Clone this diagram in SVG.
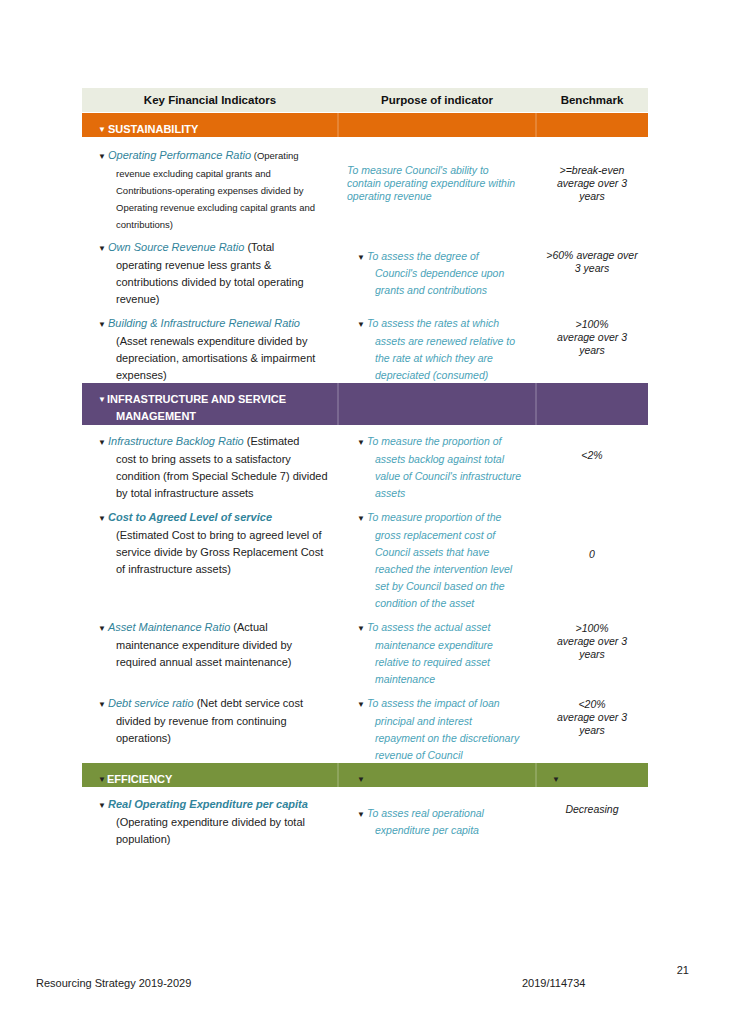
<svg xmlns="http://www.w3.org/2000/svg" width="730" height="1033" viewBox="0 0 730 1033">
<style>
text{font-family:"Liberation Sans",Arial,sans-serif;font-size:11px;fill:#222}
.h{font-weight:bold;font-size:11.5px;fill:#111}
.s{font-weight:bold;fill:#fff;font-size:11px}
.k{fill:#31849b;font-style:italic}
.p{fill:#4aa3b8;font-style:italic;font-size:10.5px}
.b{font-style:italic;font-size:10.5px;text-anchor:middle}
.sm{font-size:9.5px}
.t{fill:#222;font-size:8px}
.tw{fill:#fff;font-size:8px}
.d{stroke:rgba(255,255,255,0.35);stroke-width:1}
</style>
<rect width="730" height="1033" fill="#fff"/>
<g id="header">
<rect x="82" y="88" width="566" height="24" fill="#eaede1"/>
<text class="h" x="210" y="104" text-anchor="middle">Key Financial Indicators</text>
<text class="h" x="437" y="104" text-anchor="middle">Purpose of indicator</text>
<text class="h" x="592" y="104" text-anchor="middle">Benchmark</text>
</g>
<g id="sustainability">
<rect x="82" y="113" width="566" height="24" fill="#e36c0a"/>
<line class="d" x1="338" y1="113" x2="338" y2="137"/><line class="d" x1="536" y1="113" x2="536" y2="137"/>
<text class="tw" x="98" y="132">▼</text><text class="s" x="108" y="133">SUSTAINABILITY</text>
</g>
<g id="row-opr">
<text class="t" x="98" y="159">▼</text>
<text x="108" y="159"><tspan class="k">Operating Performance Ratio</tspan><tspan class="sm"> (Operating</tspan></text>
<text class="sm" x="116" y="177">revenue excluding capital grants and</text>
<text class="sm" x="116" y="194">Contributions-operating expenses divided by</text>
<text class="sm" x="116" y="211">Operating revenue excluding capital grants and</text>
<text class="sm" x="116" y="228">contributions)</text>
<text class="p" x="347" y="174">To measure Council's ability to</text>
<text class="p" x="347" y="187">contain operating expenditure within</text>
<text class="p" x="347" y="200">operating revenue</text>
<text class="b" x="592" y="174">&gt;=break-even</text>
<text class="b" x="592" y="187">average over 3</text>
<text class="b" x="592" y="200">years</text>
</g>
<g id="row-osr">
<text class="t" x="98" y="251">▼</text>
<text x="108" y="251"><tspan class="k">Own Source Revenue Ratio</tspan> (Total</text>
<text x="116" y="269">operating revenue less grants &amp;</text>
<text x="116" y="286">contributions divided by total operating</text>
<text x="116" y="303">revenue)</text>
<text class="t" x="357" y="260">▼</text>
<text class="p" x="367" y="260">To assess the degree of</text>
<text class="p" x="375" y="277">Council's dependence upon</text>
<text class="p" x="375" y="294">grants and contributions</text>
<text class="b" x="592" y="259">&gt;60% average over</text>
<text class="b" x="592" y="272">3 years</text>
</g>
<g id="row-birr">
<text class="t" x="98" y="327">▼</text>
<text x="108" y="327"><tspan class="k">Building &amp; Infrastructure Renewal Ratio</tspan></text>
<text x="116" y="345">(Asset renewals expenditure divided by</text>
<text x="116" y="362">depreciation, amortisations &amp; impairment</text>
<text x="116" y="379">expenses)</text>
<text class="t" x="357" y="327">▼</text>
<text class="p" x="367" y="327">To assess the rates at which</text>
<text class="p" x="375" y="345">assets are renewed relative to</text>
<text class="p" x="375" y="362">the rate at which they are</text>
<text class="p" x="375" y="379">depreciated (consumed)</text>
<text class="b" x="592" y="328">&gt;100%</text>
<text class="b" x="592" y="341">average over 3</text>
<text class="b" x="592" y="354">years</text>
</g>
<g id="infrastructure">
<rect x="82" y="383" width="566" height="42" fill="#5f497a"/>
<line class="d" x1="338" y1="383" x2="338" y2="425"/><line class="d" x1="536" y1="383" x2="536" y2="425"/>
<text class="tw" x="98" y="402">▼</text><text class="s" x="107" y="403">INFRASTRUCTURE AND SERVICE</text>
<text class="s" x="116" y="420">MANAGEMENT</text>
</g>
<g id="row-ibr">
<text class="t" x="98" y="445">▼</text>
<text x="108" y="445"><tspan class="k">Infrastructure Backlog Ratio</tspan> (Estimated</text>
<text x="116" y="463">cost to bring assets to a satisfactory</text>
<text x="116" y="480">condition (from Special Schedule 7) divided</text>
<text x="116" y="497">by total infrastructure assets</text>
<text class="t" x="357" y="445">▼</text>
<text class="p" x="367" y="445">To measure the proportion of</text>
<text class="p" x="375" y="463">assets backlog against total</text>
<text class="p" x="375" y="480">value of Council's infrastructure</text>
<text class="p" x="375" y="497">assets</text>
<text class="b" x="592" y="459">&lt;2%</text>
</g>
<g id="row-cal">
<text class="t" x="98" y="521">▼</text>
<text x="108" y="521"><tspan class="k" font-weight="bold">Cost to Agreed Level of service</tspan></text>
<text x="116" y="539">(Estimated Cost to bring to agreed level of</text>
<text x="116" y="556">service divide by Gross Replacement Cost</text>
<text x="116" y="573">of infrastructure assets)</text>
<text class="t" x="357" y="521">▼</text>
<text class="p" x="367" y="521">To measure proportion of the</text>
<text class="p" x="375" y="539">gross replacement cost of</text>
<text class="p" x="375" y="556">Council assets that have</text>
<text class="p" x="375" y="573">reached the intervention level</text>
<text class="p" x="375" y="590">set by Council based on the</text>
<text class="p" x="375" y="607">condition of the asset</text>
<text class="b" x="592" y="558">0</text>
</g>
<g id="row-amr">
<text class="t" x="98" y="631">▼</text>
<text x="108" y="631"><tspan class="k">Asset Maintenance Ratio</tspan> (Actual</text>
<text x="116" y="649">maintenance expenditure divided by</text>
<text x="116" y="666">required annual asset maintenance)</text>
<text class="t" x="357" y="631">▼</text>
<text class="p" x="367" y="631">To assess the actual asset</text>
<text class="p" x="375" y="649">maintenance expenditure</text>
<text class="p" x="375" y="666">relative to required asset</text>
<text class="p" x="375" y="683">maintenance</text>
<text class="b" x="592" y="632">&gt;100%</text>
<text class="b" x="592" y="645">average over 3</text>
<text class="b" x="592" y="658">years</text>
</g>
<g id="row-dsr">
<text class="t" x="98" y="707">▼</text>
<text x="108" y="707"><tspan class="k">Debt service ratio</tspan> (Net debt service cost</text>
<text x="116" y="725">divided by revenue from continuing</text>
<text x="116" y="742">operations)</text>
<text class="t" x="357" y="707">▼</text>
<text class="p" x="367" y="707">To assess the impact of loan</text>
<text class="p" x="375" y="725">principal and interest</text>
<text class="p" x="375" y="742">repayment on the discretionary</text>
<text class="p" x="375" y="759">revenue of Council</text>
<text class="b" x="592" y="708">&lt;20%</text>
<text class="b" x="592" y="721">average over 3</text>
<text class="b" x="592" y="734">years</text>
</g>
<g id="efficiency">
<rect x="82" y="763" width="566" height="24" fill="#77933c"/>
<line class="d" x1="338" y1="763" x2="338" y2="787"/><line class="d" x1="536" y1="763" x2="536" y2="787"/>
<text class="t" x="98" y="782">▼</text><text class="s" x="107" y="783">EFFICIENCY</text>
<text class="t" x="357" y="782">▼</text>
<text class="t" x="552" y="782">▼</text>
</g>
<g id="row-roe">
<text class="t" x="98" y="808">▼</text>
<text x="108" y="808"><tspan class="k" font-weight="bold">Real Operating Expenditure per capita</tspan></text>
<text x="116" y="826">(Operating expenditure divided by total</text>
<text x="116" y="843">population)</text>
<text class="t" x="357" y="817">▼</text>
<text class="p" x="367" y="817">To asses real operational</text>
<text class="p" x="375" y="834">expenditure per capita</text>
<text class="b" x="592" y="813">Decreasing</text>
</g>
<g id="footer">
<text x="689" y="974" text-anchor="end">21</text>
<text x="36" y="987">Resourcing Strategy 2019-2029</text>
<text x="522" y="987">2019/114734</text>
</g>
</svg>
